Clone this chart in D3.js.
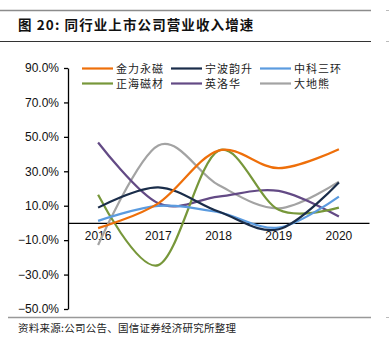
<!DOCTYPE html>
<html>
<head>
<meta charset="utf-8">
<script src="https://cdn.jsdelivr.net/npm/d3@7"></script>
<style>
  body { margin: 0; background: #fff; }
  svg { display: block; }
</style>
</head>
<body>
<svg id="chart" width="389" height="351"></svg>
<script>
// data
var years = ["2016", "2017", "2018", "2019", "2020"]
var names = ["金力永磁", "宁波韵升", "中科三环", "正海磁材", "英洛华", "大地熊"]
var jinli = [-3.0, 11.4, 42.0, 31.8, 42.8]
var ningbo = [8.9, 20.7, 6.6, -3.7, 23.5]
var zhongke = [1.2, 9.9, 6.2, -2.7, 15.3]
var zhenghai = [16.3, -24.5, 42.0, 7.6, 8.9]
var yingluo = [46.7, 11.4, 15.3, 18.6, 3.7]
var dadi = [-12.8, 45.0, 22.0, 8.5, 24.0]
var yTicks = [90, 70, 50, 30, 10, -10, -30, -50]

var series = [jinli, ningbo, zhongke, zhenghai, yingluo, dadi]
var colors = ["#ee6f0a", "#1a2d4a", "#5b9bdf", "#77973a", "#634a85", "#a3a3a3"]
// draw order: back to front
var order = [5, 4, 3, 2, 1, 0]

var svg = d3.select("#chart")
var margin = { top: 68, left: 68, right: 20, bottom: 42 }
var width = 369 - margin.left
var height = 309 - margin.top

// title block
svg.append("line").attr("x1", 0).attr("x2", 371).attr("y1", 10.5).attr("y2", 10.5)
    .attr("stroke", "#8c8c8c").attr("stroke-width", 1.5)
svg.append("line").attr("x1", 0).attr("x2", 371).attr("y1", 41.5).attr("y2", 41.5)
    .attr("stroke", "#333").attr("stroke-width", 1)
svg.append("text").attr("x", 18).attr("y", 30)
    .attr("font-family", "'Noto Sans CJK SC', sans-serif")
    .attr("font-size", 13.5).attr("font-weight", "bold").attr("fill", "#111")
    .attr("letter-spacing", 1.1)
    .text("图 20:  同行业上市公司营业收入增速")

// right-hand stubs of the neighbouring column
;[10.5, 41.5, 317.5].forEach(function (y) {
    svg.append("line").attr("x1", 386).attr("x2", 389).attr("y1", y).attr("y2", y)
        .attr("stroke", "#bbb").attr("stroke-width", 1)
})

// source line
svg.append("line").attr("x1", 8).attr("x2", 371).attr("y1", 317.5).attr("y2", 317.5)
    .attr("stroke", "#999").attr("stroke-width", 1.5)
svg.append("text").attr("x", 18).attr("y", 332)
    .attr("font-family", "'Noto Sans CJK SC', sans-serif")
    .attr("font-size", 10.5).attr("fill", "#222").attr("letter-spacing", 0.25)
    .text("资料来源:公司公告、国信证券经济研究所整理")

const g = svg.append("g")
    .attr("transform", `translate(${margin.left},${margin.top})`)

const X_scale = d3.scaleBand()
    .domain(years)
    .range([0, width])

const Y_scale = d3.scaleLinear()
    .domain([-50, 90])
    .range([height, 0])

// y axis
const yAxis = g.append("g")
    .call(d3.axisLeft(Y_scale).tickValues(yTicks).tickSize(4).tickSizeOuter(0)
        .tickFormat(d => d3.format(".1f")(d) + "%"))
yAxis.select(".domain").attr("stroke", "#000").attr("stroke-width", 1.3)
yAxis.selectAll(".tick line").attr("stroke", "#000").attr("stroke-width", 1.3)
yAxis.selectAll("text")
    .attr("font-family", "'Liberation Sans', Arial, sans-serif")
    .attr("font-size", 12).attr("fill", "#111").attr("x", -9)

// x axis sitting on zero
const xAxis = g.append("g")
    .attr("transform", `translate(0,${Y_scale(0)})`)
    .call(d3.axisBottom(X_scale).tickSize(0).tickSizeOuter(0))
xAxis.select(".domain").attr("stroke", "#000").attr("stroke-width", 1.3)
xAxis.selectAll("text")
    .attr("font-family", "'Liberation Sans', Arial, sans-serif")
    .attr("font-size", 12).attr("fill", "#111").attr("dy", "1.2em")

// lines
const line = d3.line()
    .x((d, i) => X_scale(years[i]) + X_scale.bandwidth() / 2)
    .y(d => Y_scale(d))
    .curve(d3.curveCardinal.tension(0))

order.forEach(function (k) {
    g.append("path")
        .datum(series[k])
        .attr("d", line)
        .attr("fill", "none")
        .attr("stroke", colors[k])
        .attr("stroke-width", 2.2)
})

// legend
const legend = svg.append("g")
names.forEach(function (n, i) {
    var col = i % 3, row = Math.floor(i / 3)
    var lx = 82 + col * 89, ly = 68.5 + row * 15
    legend.append("line").attr("x1", lx).attr("x2", lx + 31).attr("y1", ly).attr("y2", ly)
        .attr("stroke", colors[i]).attr("stroke-width", 2.2)
    legend.append("text").attr("x", lx + 34).attr("y", ly + 4)
        .attr("font-family", "'Noto Sans CJK SC', sans-serif")
        .attr("font-size", 11).attr("fill", "#222").attr("letter-spacing", 1)
        .text(n)
})
</script>
</body>
</html>
